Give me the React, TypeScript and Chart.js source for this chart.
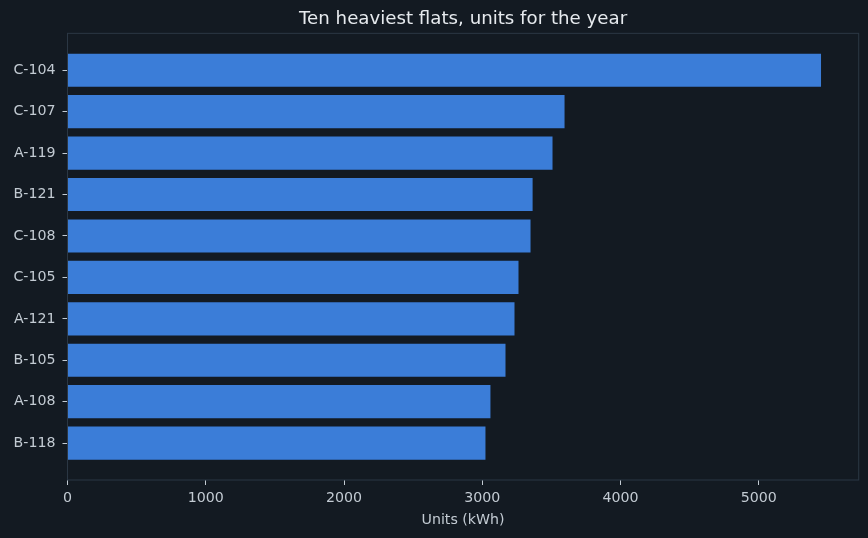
import { useEffect, useRef } from "react"
import { Chart, registerables } from "chart.js"

Chart.register(...registerables)

const flats = ["C-104", "C-107", "A-119", "B-121", "C-108", "C-105", "A-121", "B-105", "A-108", "B-118"]
const units = [5450, 3595, 3508, 3364, 3349, 3262, 3233, 3168, 3059, 3023]
const xTicks = [0, 1000, 2000, 3000, 4000, 5000]

const BG = "#131a22"
const BAR = "#3b7dd8"
const FRAME = "#2b3744"
const TEXT = "#c3cbd3"
const FONT = "'DejaVu Sans', sans-serif"

// matplotlib draws all four spines, Chart.js only the axis sides
const frame = {
  id: "frame",
  afterDatasetsDraw(chart) {
    const { ctx, chartArea: a } = chart
    ctx.save()
    ctx.strokeStyle = FRAME
    ctx.lineWidth = 1
    ctx.strokeRect(a.left, a.top, a.right - a.left, a.bottom - a.top)
    ctx.restore()
  },
}

export default function App() {
  const canvasRef = useRef(null)
  const chartRef = useRef(null)

  useEffect(() => {
    if (!canvasRef.current) return
    if (chartRef.current) chartRef.current.destroy()

    chartRef.current = new Chart(canvasRef.current, {
      type: "bar",
      data: {
        datasets: [
          {
            label: "Units",
            data: units.map((u, i) => ({ x: u, y: i })),
            backgroundColor: BAR,
            borderWidth: 0,
            barPercentage: 0.8,
            categoryPercentage: 1,
          },
        ],
      },
      plugins: [frame],
      options: {
        indexAxis: "y",
        animation: false,
        responsive: false,
        maintainAspectRatio: false,
        layout: { padding: { left: 0, right: 9.3, top: 0, bottom: 0 } },
        plugins: {
          legend: { display: false },
          tooltip: { enabled: false },
          title: {
            display: true,
            text: "Ten heaviest flats, units for the year",
            color: "#e6eaee",
            font: { family: FONT, size: 18.2, weight: "normal", lineHeight: 1.2 },
            padding: { top: 8, bottom: 3.5 },
            fullSize: false,
          },
        },
        scales: {
          x: {
            type: "linear",
            min: 0,
            max: Math.max(...units) * 1.05,
            afterBuildTicks: (s) => {
              s.ticks = xTicks.map((v) => ({ value: v }))
            },
            afterFit: (s) => {
              s.height = 58
            },
            grid: { drawOnChartArea: false, drawTicks: true, tickLength: 5, tickColor: TEXT },
            border: { display: false },
            ticks: {
              color: TEXT,
              font: { family: FONT, size: 14.2 },
              padding: 5,
              maxRotation: 0,
              callback: (v) => String(v),
            },
            title: {
              display: true,
              text: "Units (kWh)",
              color: TEXT,
              font: { family: FONT, size: 14.2 },
              padding: { top: 0, bottom: 9 },
            },
          },
          y: {
            type: "linear",
            reverse: true,
            offset: false,
            min: -0.89,
            max: 9.89,
            afterBuildTicks: (s) => {
              s.ticks = flats.map((_, i) => ({ value: i }))
            },
            afterFit: (s) => {
              s.width = 67.5
            },
            grid: { offset: false, drawOnChartArea: false, drawTicks: true, tickLength: 5, tickColor: TEXT },
            border: { display: false },
            ticks: {
              color: TEXT,
              font: { family: FONT, size: 14.2 },
              padding: 7,
              callback: (v) => flats[v] ?? "",
            },
          },
        },
      },
    })

    return () => {
      if (chartRef.current) {
        chartRef.current.destroy()
        chartRef.current = null
      }
    }
  }, [])

  return (
    <div style={{ position: "absolute", left: 0, top: 0, width: 868, height: 538, background: BG }}>
      <canvas ref={canvasRef} width={868} height={538} style={{ display: "block" }}></canvas>
    </div>
  )
}
